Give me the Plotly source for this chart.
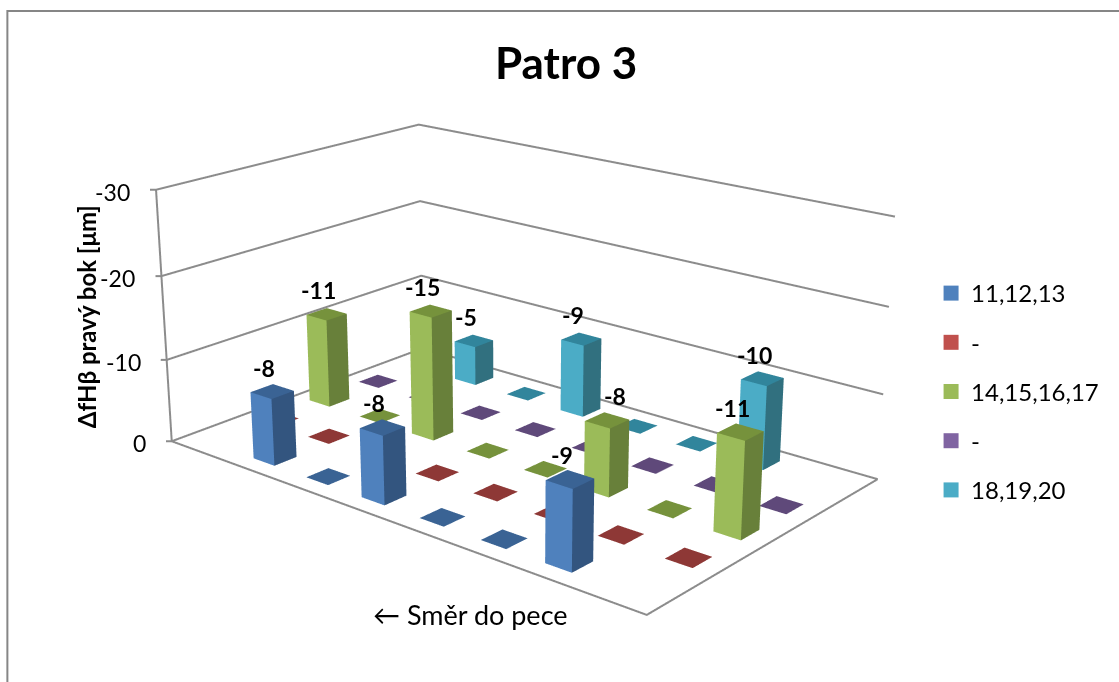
import math
import plotly.graph_objects as go

title = "Patro 3"
axis_title = "ΔfHβ pravý bok [μm]"
note = "← Směr do pece"
z_ticks = [0, -10, -20, -30]
series_names = ["11,12,13", "-", "14,15,16,17", "-", "18,19,20"]
blue = [None, -8, 0, -8, 0, 0, -9, None]
red = [0, 0, 0, 0, 0, 0, 0, 0]
green = [-11, 0, -15, 0, 0, -8, 0, -11]
purple = [0, 0, 0, 0, 0, 0, 0, 0]
teal = [None, -5, 0, -9, 0, 0, -10, None]
series_values = [blue, red, green, purple, teal]
legend_colors = ["#4F81BD", "#C0504D", "#9BBB59", "#8064A2", "#4BACC6"]
front_colors = ["#4F81BD", "#C0504D", "#9BBB59", "#8064A2", "#4BACC6"]
side_colors = ["#33557F", "#7F3533", "#68803A", "#553F70", "#31707F"]
top_colors = ["#3A6394", "#8E3836", "#76923C", "#5F497A", "#31859C"]

# scene set-up (calibrated camera)
N_CAT, N_SER, Z_MAX = 8, 5, 30
XR0, YR0, ZR0 = (-0.06, 8.0), (-0.05, 5.0), (0.0, 30.0)
PAD = (0.03, 0.03, 0.1)
XR = (XR0[0]-PAD[0], XR0[1]+PAD[0])
YR = (YR0[0]-PAD[1], YR0[1]+PAD[1])
ZR = (ZR0[0]-PAD[2], ZR0[1]+PAD[2])
ASP = (0.9503*(XR[1]-XR[0])/(XR0[1]-XR0[0]),
       0.5970*(YR[1]-YR[0])/(YR0[1]-YR0[0]),
       0.4143*(ZR[1]-ZR[0])/(ZR0[1]-ZR0[0]))
EYE = (1.8229, -2.1580, 0.9600)
CEN = (0.0144, -0.0081, -0.0153)
Px, Py, FOCAL = 516.7924, 346.9978, 1953.4142

SH = 2*FOCAL*math.tan(math.pi/8)
HW = max(Px, 1119-Px)+5
FW, FH = 2*HW, SH
OX, OY = Px-HW, Py-SH/2   # page position of the figure's corner
def px(x): return (x-OX)/FW
def py(y): return 1-(y-OY)/FH

fig = go.Figure()
BW = 0.2
label_dx = {(2, 5): 8}
labels = []
for s, vals in enumerate(series_values):
    xs, ys, zs, I, J_, K, fc = [], [], [], [], [], [], []
    for c_i, v in enumerate(vals):
        if v is None:
            continue
        h = -v
        x0, x1 = c_i+.5-BW, c_i+.5+BW
        y0, y1 = s+.5-BW, s+.5+BW
        n = len(xs)
        xs += [x0, x1, x1, x0, x0, x1, x1, x0]
        ys += [y0, y0, y1, y1, y0, y0, y1, y1]
        zs += [0, 0, 0, 0, h, h, h, h]
        tris = [(4,5,6,top_colors),(4,6,7,top_colors),
                (0,1,5,front_colors),(0,5,4,front_colors),
                (1,2,6,side_colors),(1,6,5,side_colors),
                (2,3,7,side_colors),(2,7,6,side_colors),
                (3,0,4,front_colors),(3,4,7,front_colors)]
        for a, b, d, col in tris:
            I.append(n+a); J_.append(n+b); K.append(n+d); fc.append(col[s])
        if v != 0:
            labels.append(dict(x=c_i+.5, y=s+.5, z=h, text=str(v), showarrow=False,
                               xshift=label_dx.get((s, c_i), -8), yshift=24,
                               font=dict(family="Lato", size=23, color="black", weight=700)))
    fig.add_trace(go.Mesh3d(x=xs, y=ys, z=zs, i=I, j=J_, k=K, facecolor=fc, flatshading=True,
                            lighting=dict(ambient=1, diffuse=0, specular=0, roughness=1, fresnel=0),
                            hoverinfo="skip", showlegend=False, showscale=False))

GRID = "#8C8C8C"
def line(x, y, z, w=4):
    fig.add_trace(go.Scatter3d(x=x, y=y, z=z, mode="lines", line=dict(color=GRID, width=w),
                               hoverinfo="skip", showlegend=False))
for t in z_ticks:
    h = -t
    line([XR0[0], 0, 0, N_CAT], [YR0[0], 0, N_SER, N_SER], [h, h, h, h])
    labels.append(dict(x=0, y=0, z=h, text=str(t), showarrow=False, xanchor="right", xshift=-24, yshift=-2,
                       font=dict(family="Lato", size=23, color="black")))
line([0, 0], [0, 0], [0, Z_MAX])
line([0, N_CAT, N_CAT], [0, 0, N_SER], [0, 0, 0])

for s, name in enumerate(series_names):
    fig.add_trace(go.Scatter3d(x=[None], y=[None], z=[None], mode="markers", name=name, legendgroup=str(s),
                               marker=dict(symbol="square", size=15, color=legend_colors[s])))

hidden = dict(visible=False, showgrid=False, zeroline=False, showticklabels=False, showspikes=False)
fig.update_layout(
    width=round(FW), height=round(FH), margin=dict(l=0, r=0, t=0, b=0), paper_bgcolor="white",
    font=dict(family="Lato", color="black"),
    scene=dict(
        domain=dict(x=[0, 1], y=[0, 1]),
        xaxis=dict(range=list(XR), **hidden), yaxis=dict(range=list(YR), **hidden), zaxis=dict(range=list(ZR), **hidden),
        aspectmode="manual", aspectratio=dict(x=ASP[0], y=ASP[1], z=ASP[2]),
        camera=dict(eye=dict(x=EYE[0], y=EYE[1], z=EYE[2]),
                    center=dict(x=CEN[0], y=CEN[1], z=CEN[2]),
                    up=dict(x=0, y=0, z=1), projection=dict(type="perspective")),
        annotations=labels,
    ),
    legend=dict(x=px(931), y=py(271), xanchor="left", yanchor="top", font=dict(family="Lato", size=24, color="black"),
                tracegroupgap=15, bgcolor="rgba(0,0,0,0)"),
    annotations=[
        dict(text="<b>"+title+"</b>", x=px(566), y=py(62), xref="paper", yref="paper", xanchor="center", yanchor="middle",
             showarrow=False, font=dict(family="Lato", size=44)),
        dict(text="<b>"+axis_title+"</b>", x=px(86), y=py(317), xref="paper", yref="paper", xanchor="center", yanchor="middle",
             textangle=-90, showarrow=False, font=dict(family="Lato", size=24)),
        dict(text=note, x=px(470), y=py(615), xref="paper", yref="paper", xanchor="center", yanchor="middle",
             showarrow=False, font=dict(family="Lato", size=27)),
    ],
    shapes=[dict(type="rect", xref="paper", yref="paper", x0=px(7), x1=px(1135), y0=py(700), y1=py(11),
                 line=dict(color="#868686", width=2))],
)
fig.write_html("out.html", post_script="document.body.style.margin='%dpx 0 0 %dpx';document.documentElement.style.overflow='hidden';" % (round(OY), round(OX)))
